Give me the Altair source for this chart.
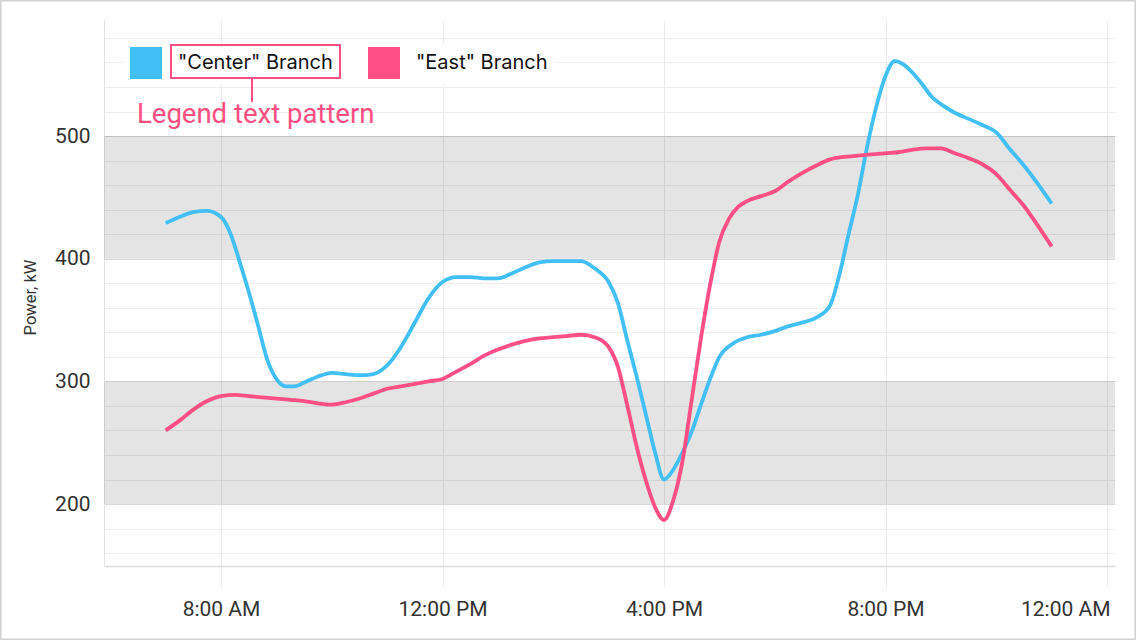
import altair as alt
import pandas as pd

center_times = ["07:00", "07:15", "07:30", "07:45", "08:00", "08:10", "08:20", "08:30", "08:40", "08:50",
                "09:00", "09:10", "09:20", "09:30", "09:45", "10:00", "10:15", "10:30", "10:45", "11:00",
                "11:15", "11:30", "11:45", "12:00", "12:15", "12:30", "12:45", "13:00", "13:15", "13:30",
                "13:45", "14:00", "14:15", "14:30", "14:45", "15:00", "15:10", "15:20", "15:30", "15:40",
                "15:50", "16:00", "16:10", "16:20", "16:30", "16:40", "16:50", "17:00", "17:15", "17:30",
                "17:45", "18:00", "18:15", "18:30", "18:45", "19:00", "19:10", "19:20", "19:30", "19:40",
                "19:50", "20:00", "20:10", "20:20", "20:30", "20:40", "20:50", "21:00", "21:15", "21:30",
                "21:45", "22:00", "22:15", "22:30", "22:45", "23:00"]
center_power = [429, 434, 438, 439, 434, 421, 398, 373, 346, 318,
                302, 296, 296, 299, 304, 307, 306, 305, 306, 313,
                328, 348, 368, 381, 385, 385, 384, 384, 388, 393,
                397, 398, 398, 398, 392, 381, 364, 334, 305, 274,
                243, 220, 228, 242, 259, 281, 302, 320, 331, 336,
                338, 341, 345, 348, 352, 362, 387, 420, 452, 491,
                524, 549, 561, 558, 551, 542, 532, 526, 519, 514,
                509, 503, 489, 476, 461, 445]

east_times = ["07:00", "07:15", "07:30", "07:45", "08:00", "08:15", "08:30", "08:45", "09:00", "09:15",
              "09:30", "09:45", "10:00", "10:15", "10:30", "10:45", "11:00", "11:15", "11:30", "11:45",
              "12:00", "12:15", "12:30", "12:45", "13:00", "13:15", "13:30", "13:45", "14:00", "14:15",
              "14:30", "14:45", "15:00", "15:10", "15:20", "15:30", "15:40", "15:50", "16:00", "16:10",
              "16:20", "16:30", "16:40", "16:50", "17:00", "17:10", "17:20", "17:30", "17:45", "18:00",
              "18:15", "18:30", "18:45", "19:00", "19:15", "19:30", "19:45", "20:00", "20:15", "20:30",
              "20:45", "21:00", "21:15", "21:30", "21:45", "22:00", "22:15", "22:30", "22:45", "23:00"]
east_power = [260, 268, 277, 284, 288, 289, 288, 287, 286, 285,
              284, 282, 281, 283, 286, 290, 294, 296, 298, 300,
              302, 308, 314, 321, 326, 330, 333, 335, 336, 337,
              338, 336, 328, 312, 281, 248, 220, 198, 187, 203,
              235, 285, 335, 379, 414, 432, 442, 447, 451, 455,
              463, 470, 476, 481, 483, 484, 485, 486, 487, 489,
              490, 490, 486, 482, 477, 469, 456, 443, 427, 410]

series_names = ['"Center" Branch', '"East" Branch']
series_colors = ["#42BFF4", "#FF4F85"]
band_low = [200, 400]
band_high = [300, 500]
x_ticks = [8, 12, 16, 20, 24]
y_ticks = list(range(160, 581, 20))


def to_hours(t):
    h, m = t.split(":")
    return int(h) + int(m) / 60.0


rows = []
for t, v in zip(center_times, center_power):
    rows.append({"hour": to_hours(t), "power": v, "series": series_names[0]})
for t, v in zip(east_times, east_power):
    rows.append({"hour": to_hours(t), "power": v, "series": series_names[1]})
df = pd.DataFrame(rows)
bands = pd.DataFrame({"lo": band_low, "hi": band_high})

W, H = 1011, 546
PAD_L, PAD_T = 104, 20
FONT = "Roboto"
PINK = "#FF4F82"

xscale = alt.Scale(domain=[5.887, 24.144], nice=False, zero=False)
yscale = alt.Scale(domain=[149.5, 594.6], nice=False, zero=False)

x_axis = alt.Axis(
    values=x_ticks,
    labelExpr="((datum.value % 12) == 0 ? 12 : datum.value % 12) + ':00 ' + ((datum.value % 24) < 12 ? 'AM' : 'PM')",
    grid=True, gridColor="#EBEBEB", gridWidth=1,
    domainColor="#DCDCDC", domainWidth=1.5,
    tickColor="#EBEBEB", tickSize=21, tickWidth=1,
    labelFont=FONT, labelFontSize=21, labelColor="#333333", labelPadding=11,
    labelFlush=10, labelFlushOffset=3,
    title=None,
)
y_axis = alt.Axis(
    values=y_ticks,
    labelExpr="datum.value % 100 === 0 ? datum.label : ''",
    grid=True,
    gridColor={"condition": {"test": "datum.value % 100 === 0", "value": "#DADADA"}, "value": "#EEEEEE"},
    gridWidth=1.2,
    domainColor="#E2E2E2", domainWidth=1,
    ticks=False,
    labelFont=FONT, labelFontSize=21, labelColor="#333333", labelPadding=14,
    title="Power, kW", titleFont=FONT, titleFontSize=16.5, titleFontWeight="normal",
    titleColor="#333333", titleAngle=270, titleX=-74, titleY=277,
    titleAlign="center", titleBaseline="middle",
)

band_layer = alt.Chart(bands).mark_rect(color="#000000", opacity=0.105).encode(
    y=alt.Y("lo:Q", scale=yscale, axis=y_axis),
    y2="hi:Q",
)

# white backdrop behind the legend (hides gridlines like the reference)
legend_bg = alt.Chart(pd.DataFrame({"k": [0]})).mark_rect(fill="#FFFFFF").encode(
    x=alt.value(20), x2=alt.value(451), y=alt.value(24), y2=alt.value(64)
)

lines = alt.Chart(df).mark_line(strokeWidth=3.8, interpolate="monotone").encode(
    x=alt.X("hour:Q", scale=xscale, axis=x_axis),
    y=alt.Y("power:Q", scale=yscale, axis=y_axis),
    color=alt.Color(
        "series:N",
        scale=alt.Scale(domain=series_names, range=series_colors),
        sort=series_names,
        title=None,
        legend=alt.Legend(
            orient="none", legendX=26, legendY=27, direction="horizontal", columns=2,
            symbolType="square", symbolSize=256, symbolStrokeWidth=16, symbolOpacity=1,
            labelFont="Inter", labelFontSize=20, labelColor="#111111", labelOffset=16,
            labelLimit=400, columnPadding=11, padding=0,
        ),
    ),
)

# annotation around first legend label
ann_box = alt.Chart(pd.DataFrame({"k": [0]})).mark_rect(
    fill="transparent", stroke=PINK, strokeWidth=2
).encode(x=alt.value(67), x2=alt.value(236), y=alt.value(25), y2=alt.value(58))
ann_line = alt.Chart(pd.DataFrame({"k": [0]})).mark_rule(color=PINK, strokeWidth=2).encode(
    x=alt.value(148), y=alt.value(58), y2=alt.value(82)
)
ann_text = alt.Chart(pd.DataFrame({"t": ["Legend text pattern"]})).mark_text(
    color=PINK, font=FONT, fontSize=27.5, align="left", baseline="alphabetic"
).encode(x=alt.value(33), y=alt.value(103), text="t:N")

border = alt.Chart(pd.DataFrame({"k": [0]})).mark_rect(
    fill="transparent", stroke="#D0D0D0", strokeWidth=1.5
).encode(x=alt.value(-PAD_L + 0.75), x2=alt.value(1136 - PAD_L - 0.75),
         y=alt.value(-PAD_T + 0.75), y2=alt.value(640 - PAD_T - 0.75))

chart = alt.layer(band_layer, legend_bg, lines, ann_box, ann_line, ann_text, border).properties(
    width=W, height=H,
    autosize=alt.AutoSizeParams(type="none"),
    padding={"left": PAD_L, "top": PAD_T, "right": 1136 - PAD_L - W, "bottom": 640 - PAD_T - H},
    background="#FFFFFF",
).configure_view(stroke=None)

chart.save("out.html", embed_options={"renderer": "svg", "actions": False})
